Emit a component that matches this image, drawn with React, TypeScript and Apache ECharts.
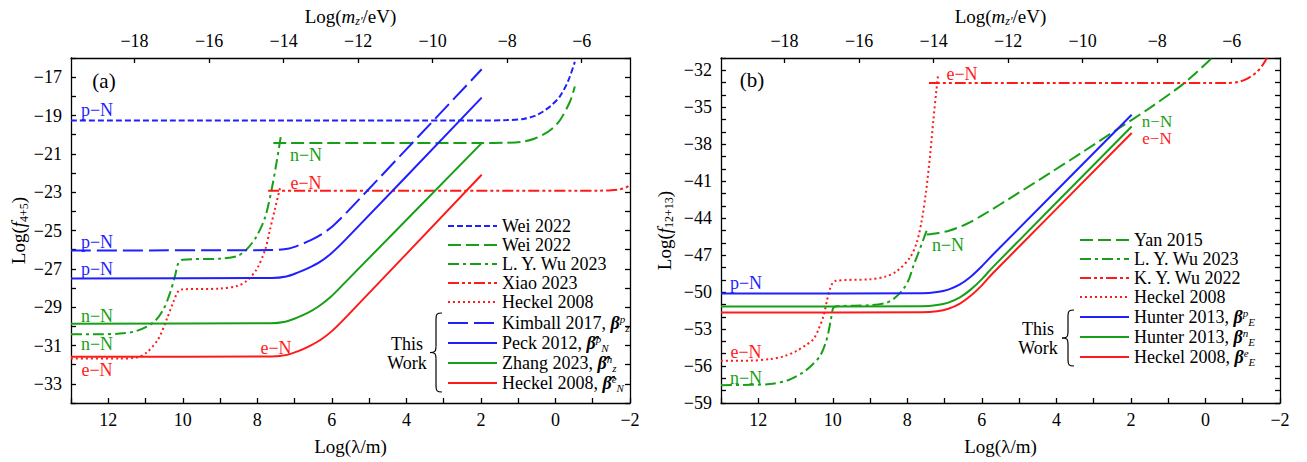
import React, { useEffect, useRef } from "react";
import * as echarts from "echarts";

const FONT = "'Times New Roman', 'Liberation Serif', 'DejaVu Serif', serif";
const BLUE = "#1f1fff";
const GREEN = "#17a017";
const RED = "#ff1a1a";

// ---------- Panel (a): x = Log(lambda/m), y = Log(f_{4+5}) ----------
const weiP = [[13, -19.26], [2, -19.26], [1.3, -19.24], [0.86, -19.18], [0.55, -19.02], [0.33, -18.79], [0.1, -18.45], [-0.12, -18.0], [-0.34, -17.2], [-0.52, -16.2]];
const weiN = [[7.57, -20.44], [2, -20.44], [1.3, -20.42], [0.86, -20.36], [0.55, -20.2], [0.33, -20.0], [0.1, -19.7], [-0.12, -19.25], [-0.39, -18.27], [-0.52, -17.49]];
const lyWuA = [[13, -30.41], [12.2, -30.41], [11.69, -30.38], [11.24, -30.24], [10.79, -29.8], [10.52, -29.11], [10.34, -28.24], [10.21, -27.38], [10.12, -26.7], [10.0, -26.52], [9.0, -26.47], [8.55, -26.34], [8.29, -25.99], [8.02, -25.3], [7.79, -24.3], [7.62, -22.9], [7.48, -21.4], [7.37, -20.09]];
const xiao = [[7.71, -22.92], [-1.2, -22.92], [-1.5, -22.9], [-1.75, -22.84], [-1.9, -22.75], [-2, -22.6]];
const heckelDotA = [[13, -31.68], [11.7, -31.68], [11.24, -31.63], [10.97, -31.37], [10.66, -30.67], [10.43, -29.63], [10.26, -28.76], [10.12, -28.16], [10.0, -28.07], [9.0, -28.03], [8.55, -27.9], [8.29, -27.64], [8.02, -27.03], [7.79, -26.0], [7.66, -24.95], [7.53, -23.9], [7.39, -22.78]];
const kimball = [[13, -26.04], [7.55, -26.02], [7.15, -25.94], [6.85, -25.74], [6.55, -25.49], [6.25, -25.17], [5.95, -24.72], [5.55, -23.95], [1.98, -16.59]];
const peck = [[13, -27.5], [7.62, -27.48], [7.22, -27.4], [6.92, -27.2], [6.62, -26.95], [6.32, -26.64], [6.02, -26.2], [5.62, -25.45], [1.98, -18.07]];
const zhang = [[13, -29.86], [7.65, -29.84], [7.25, -29.76], [6.95, -29.56], [6.65, -29.3], [6.35, -28.95], [6.05, -28.5], [5.65, -27.72], [1.98, -20.44]];
const heckelA = [[13, -31.59], [7.6, -31.57], [7.2, -31.49], [6.9, -31.29], [6.6, -31.03], [6.3, -30.7], [6.0, -30.25], [5.6, -29.48], [1.98, -22.09]];

// ---------- Panel (b): x = Log(lambda/m), y = Log(f_{12+13}) ----------
const yan = [[7.48, -45.32], [7.2, -45.22], [6.86, -45.0], [6.4, -44.45], [5.96, -43.72], [5.07, -42.05], [4.17, -40.33], [3.28, -38.6], [2.38, -36.81], [1.49, -35.05], [0.68, -33.3], [0.25, -32.2], [-0.17, -31.0]];
const lyWuB = [[13, -57.55], [12.2, -57.52], [11.69, -57.46], [11.2, -57.15], [10.79, -56.5], [10.55, -55.9], [10.34, -55.17], [10.2, -54.2], [10.12, -53.3], [10.05, -52.2], [9.99, -51.3], [9.9, -51.15], [9.0, -51.07], [8.6, -50.9], [8.38, -50.58], [8.11, -49.77], [7.95, -48.9], [7.84, -47.89], [7.7, -46.8], [7.57, -45.73], [7.47, -44.9]];
const kyWu = [[7.42, -33.03], [-0.6, -33.02], [-0.87, -32.95], [-1.11, -32.7], [-1.38, -32.13], [-1.55, -31.5], [-1.65, -31.0]];
const heckelDotB = [[13, -55.58], [12.2, -55.56], [11.69, -55.44], [11.3, -55.2], [10.97, -54.77], [10.72, -54.3], [10.52, -53.82], [10.38, -53.0], [10.25, -51.94], [10.15, -50.6], [10.08, -49.77], [9.94, -49.1], [9.0, -48.96], [8.6, -48.75], [8.28, -48.3], [7.93, -47.2], [7.75, -46.0], [7.62, -44.3], [7.5, -41.9], [7.39, -38.9], [7.3, -36.0], [7.22, -33.6], [7.18, -32.5]];
const hunterP = [[13, -50.12], [7.6, -50.1], [7.2, -50.0], [6.9, -49.8], [6.6, -49.4], [6.3, -48.75], [6.0, -47.9], [5.7, -46.95], [1.98, -35.61]];
const hunterN = [[13, -51.17], [7.6, -51.15], [7.2, -51.05], [6.9, -50.85], [6.6, -50.45], [6.3, -49.8], [6.0, -48.95], [5.7, -47.95], [1.98, -36.56]];
const heckelB = [[13, -51.66], [7.6, -51.64], [7.2, -51.55], [6.9, -51.35], [6.6, -50.95], [6.3, -50.3], [6.0, -49.45], [5.7, -48.45], [1.98, -37.09]];

// axis ranges and ticks
const lambdaRange = [-2, 13];
const massOffset = -6.705; // Log(m/eV) = -6.705 - Log(lambda/m)
const massTicks = [-18, -16, -14, -12, -10, -8, -6];
const yRangeA = [-34, -16];
const yRangeB = [-59, -31];

// legend labels
const legendA1 = ["a_weiP", "a_weiN", "a_lyWu", "a_xiao", "a_heckelDot"];
const legendA2 = ["a_kimball", "a_peck", "a_zhang", "a_heckel"];
const legendB1 = ["b_yan", "b_lyWu", "b_kyWu", "b_heckelDot"];
const legendB2 = ["b_hunterP", "b_hunterN", "b_heckel"];
const legendText: Record<string, string> = {
  a_weiP: "Wei 2022",
  a_weiN: "Wei 2022",
  a_lyWu: "L. Y. Wu 2023",
  a_xiao: "Xiao 2023",
  a_heckelDot: "Heckel 2008",
  a_kimball: "Kimball 2017, {b|β}{sup|p}{sub|z}",
  a_peck: "Peck 2012, {b|β̂}{sup|p}{sub|N}",
  a_zhang: "Zhang 2023, {b|β̂}{sup|n}{sub|z}",
  a_heckel: "Heckel 2008, {b|β̂}{sup|e}{sub|N}",
  b_yan: "Yan 2015",
  b_lyWu: "L. Y. Wu 2023",
  b_kyWu: "K. Y. Wu 2022",
  b_heckelDot: "Heckel 2008",
  b_hunterP: "Hunter 2013, {b|β}{sup|p}{sub|E}",
  b_hunterN: "Hunter 2013, {b|β}{sup|n}{sub|E}",
  b_heckel: "Heckel 2008, {b|β}{sup|e}{sub|E}",
};

const minus = (v: number) => (v < 0 ? "\u2212" + Math.abs(v) : String(v));

const axisLineStyle = { color: "#000", width: 1.3 };
const labelFont = { fontFamily: FONT, fontSize: 18, color: "#000" };
const richName = {
  i: { fontFamily: FONT, fontSize: 19, fontStyle: "italic" as const, color: "#000" },
  sub: { fontFamily: FONT, fontSize: 12, fontStyle: "italic" as const, color: "#000", verticalAlign: "bottom" as const, lineHeight: 22, padding: [8, 0, 0, 0] },
  subn: { fontFamily: FONT, fontSize: 12, color: "#000", verticalAlign: "bottom" as const, lineHeight: 22, padding: [8, 0, 0, 0] },
};
const legendRich = {
  b: { fontFamily: FONT, fontSize: 18, fontWeight: "bold" as const, fontStyle: "italic" as const, color: "#000", lineHeight: 20 },
  sup: { fontFamily: FONT, fontSize: 11, fontStyle: "italic" as const, color: "#000", verticalAlign: "top" as const, lineHeight: 20 },
  sub: { fontFamily: FONT, fontSize: 11, fontStyle: "italic" as const, color: "#000", verticalAlign: "bottom" as const, lineHeight: 20, padding: [6, 0, 0, 0] },
};

function bottomAxis(gridIndex: number) {
  return {
    type: "value", gridIndex, position: "bottom",
    min: lambdaRange[0], max: lambdaRange[1], inverse: true, interval: 1,
    axisLine: { show: true, onZero: false, lineStyle: axisLineStyle },
    axisTick: { show: true, inside: true, length: 5, lineStyle: axisLineStyle },
    axisLabel: { ...labelFont, margin: 8, formatter: (v: number) => (Math.round(v) % 2 === 0 ? minus(Math.round(v)) : "") },
    splitLine: { show: false },
    name: "Log(λ/m)", nameLocation: "middle", nameGap: 34,
    nameTextStyle: { fontFamily: FONT, fontSize: 19, color: "#000" },
  };
}
function topAxis(gridIndex: number) {
  return {
    type: "value", gridIndex, position: "top",
    min: massOffset - lambdaRange[1], max: massOffset - lambdaRange[0],
    axisLine: { show: true, onZero: false, lineStyle: axisLineStyle },
    axisTick: { show: true, inside: true, length: 5, lineStyle: axisLineStyle, customValues: massTicks },
    axisLabel: { ...labelFont, margin: 8, customValues: massTicks, formatter: (v: number) => minus(Math.round(v)) },
    splitLine: { show: false },
    name: "Log({i|m}{sub|z′}/eV)", nameLocation: "middle", nameGap: 31,
    nameTextStyle: { fontFamily: FONT, fontSize: 19, color: "#000", rich: richName },
  };
}
function leftAxis(gridIndex: number, range: number[], fmt: (v: number) => string, name: string, gap: number) {
  return {
    type: "value", gridIndex, position: "left", min: range[0], max: range[1], interval: 1,
    axisLine: { show: true, onZero: false, lineStyle: axisLineStyle },
    axisTick: { show: true, inside: true, length: 5, lineStyle: axisLineStyle },
    axisLabel: { ...labelFont, margin: 9, formatter: fmt },
    splitLine: { show: false },
    name, nameLocation: "middle", nameGap: gap,
    nameTextStyle: { fontFamily: FONT, fontSize: 19, color: "#000", rich: richName },
  };
}
function rightAxis(gridIndex: number, range: number[]) {
  return {
    type: "value", gridIndex, position: "right", min: range[0], max: range[1], interval: 1,
    axisLine: { show: true, onZero: false, lineStyle: axisLineStyle },
    axisTick: { show: true, inside: true, length: 5, lineStyle: axisLineStyle },
    axisLabel: { show: false },
    splitLine: { show: false },
  };
}

function line(name: string, panel: number, data: number[][], color: string, type: any, z = 2) {
  return {
    type: "line", name, xAxisIndex: panel * 2, yAxisIndex: panel * 2, data,
    symbol: "none", showSymbol: false, smooth: 0.3, clip: true, z,
    lineStyle: { color, width: 2, type },
    itemStyle: { color },
    emphasis: { disabled: true },
  };
}

function legend(data: string[], left: number, top: number, gap: number) {
  return {
    data, orient: "vertical", left, top, padding: 0, itemGap: gap,
    itemWidth: 49, itemHeight: 10, selectedMode: false,
    itemStyle: { opacity: 0, borderWidth: 0 },
    formatter: (n: string) => legendText[n],
    textStyle: { fontFamily: FONT, fontSize: 18, color: "#000", lineHeight: 19, rich: legendRich },
  };
}

function txt(t: string, x: number, y: number, color: string, size = 18) {
  return {
    type: "text", x, y, silent: true,
    style: {
      text: t, fill: color, fontFamily: FONT, fontSize: size, lineHeight: 15,
      textAlign: "center", textVerticalAlign: "middle", align: "center", verticalAlign: "middle",
    },
  };
}

function brace(xl: number, xr: number, yt: number, yb: number) {
  const xm = (xl + xr) / 2;
  const ym = (yt + yb) / 2;
  const st = { stroke: "#000", lineWidth: 1.2, fill: "none" };
  return [
    { type: "bezierCurve", silent: true, shape: { x1: xr, y1: yt, cpx1: xm + 1, cpy1: yt, cpx2: xm, cpy2: yt + 1, x2: xm, y2: yt + 6 }, style: st },
    { type: "line", silent: true, shape: { x1: xm, y1: yt + 6, x2: xm, y2: ym - 6 }, style: st },
    { type: "bezierCurve", silent: true, shape: { x1: xm, y1: ym - 6, cpx1: xm, cpy1: ym - 1, cpx2: xm - 1, cpy2: ym, x2: xl, y2: ym }, style: st },
    { type: "bezierCurve", silent: true, shape: { x1: xl, y1: ym, cpx1: xm - 1, cpy1: ym, cpx2: xm, cpy2: ym + 1, x2: xm, y2: ym + 6 }, style: st },
    { type: "line", silent: true, shape: { x1: xm, y1: ym + 6, x2: xm, y2: yb - 6 }, style: st },
    { type: "bezierCurve", silent: true, shape: { x1: xm, y1: yb - 6, cpx1: xm, cpy1: yb - 1, cpx2: xm + 1, cpy2: yb, x2: xr, y2: yb }, style: st },
  ];
}

const SHORT = [6, 3];
const LONG = [13, 5];
const XLONG = [20, 6];
const DASHDOT = [11, 4, 3, 4];
const DASHDOTDOT = [11, 3, 3, 3, 3, 3];
const DOT = [2, 3];

export default function App() {
  const ref = useRef<HTMLDivElement>(null);
  useEffect(() => {
    if (!ref.current) return;
    const chart = echarts.init(ref.current, undefined, { renderer: "svg" });
    const option: any = {
      animation: false,
      backgroundColor: "#fff",
      textStyle: { fontFamily: FONT },
      grid: [
        { left: 71, top: 58, width: 559, height: 345 },
        { left: 721, top: 58, width: 559, height: 345 },
      ],
      xAxis: [bottomAxis(0), topAxis(0), bottomAxis(1), topAxis(1)],
      yAxis: [
        leftAxis(0, yRangeA, (v: number) => (Math.abs(Math.round(v)) % 2 === 1 ? minus(Math.round(v)) : ""), "Log({i|f}{subn|4+5})", 41),
        rightAxis(0, yRangeA),
        leftAxis(1, yRangeB, (v: number) => ((Math.round(v) - yRangeB[0]) % 3 === 0 ? minus(Math.round(v)) : ""), "Log({i|f}{subn|12+13})", 46),
        rightAxis(1, yRangeB),
      ],
      legend: [
        legend(legendA1, 447, 216.5, 0),
        legend(legendA2, 447, 313, 0),
        legend(legendB1, 1079, 230.5, 0),
        legend(legendB2, 1079, 307, 0),
      ],
      series: [
        line("a_weiP", 0, weiP, BLUE, SHORT),
        line("a_weiN", 0, weiN, GREEN, LONG),
        line("a_lyWu", 0, lyWuA, GREEN, DASHDOT),
        line("a_xiao", 0, xiao, RED, DASHDOTDOT),
        line("a_heckelDot", 0, heckelDotA, RED, DOT),
        line("a_kimball", 0, kimball, BLUE, XLONG, 3),
        line("a_peck", 0, peck, BLUE, "solid", 3),
        line("a_zhang", 0, zhang, GREEN, "solid", 3),
        line("a_heckel", 0, heckelA, RED, "solid", 3),
        line("b_yan", 1, yan, GREEN, LONG),
        line("b_lyWu", 1, lyWuB, GREEN, DASHDOT),
        line("b_kyWu", 1, kyWu, RED, DASHDOTDOT),
        line("b_heckelDot", 1, heckelDotB, RED, DOT),
        line("b_hunterP", 1, hunterP, BLUE, "solid", 3),
        line("b_hunterN", 1, hunterN, GREEN, "solid", 3),
        line("b_heckel", 1, heckelB, RED, "solid", 3),
      ],
      graphic: [
        txt("(a)", 104, 81, "#000", 21),
        txt("p−N", 97, 110, BLUE),
        txt("n−N", 306, 155, GREEN),
        txt("e−N", 306, 183, RED),
        txt("p−N", 97, 242, BLUE),
        txt("p−N", 97, 269, BLUE),
        txt("n−N", 97, 316, GREEN),
        txt("n−N", 97, 344, GREEN),
        txt("e−N", 97, 370, RED),
        txt("e−N", 276, 348, RED),
        txt("This", 407, 344, "#000"),
        txt("Work", 407, 363, "#000"),
        ...brace(430, 442, 313, 392),
        txt("(b)", 752, 80, "#000", 21),
        txt("e−N", 962, 74, RED),
        txt("n−N", 1157, 121, GREEN, 17),
        txt("e−N", 1157, 138.5, RED, 17),
        txt("n−N", 948, 245, GREEN),
        txt("p−N", 746, 283, BLUE),
        txt("e−N", 746, 352, RED),
        txt("n−N", 746, 378, GREEN),
        txt("This", 1038, 329, "#000"),
        txt("Work", 1038, 348, "#000"),
        ...brace(1062, 1074, 310, 366),
      ],
    };
    chart.setOption(option);
    return () => chart.dispose();
  }, []);
  return <div ref={ref} style={{ position: "absolute", left: 0, top: 0, width: 1307, height: 462 }} />;
}
